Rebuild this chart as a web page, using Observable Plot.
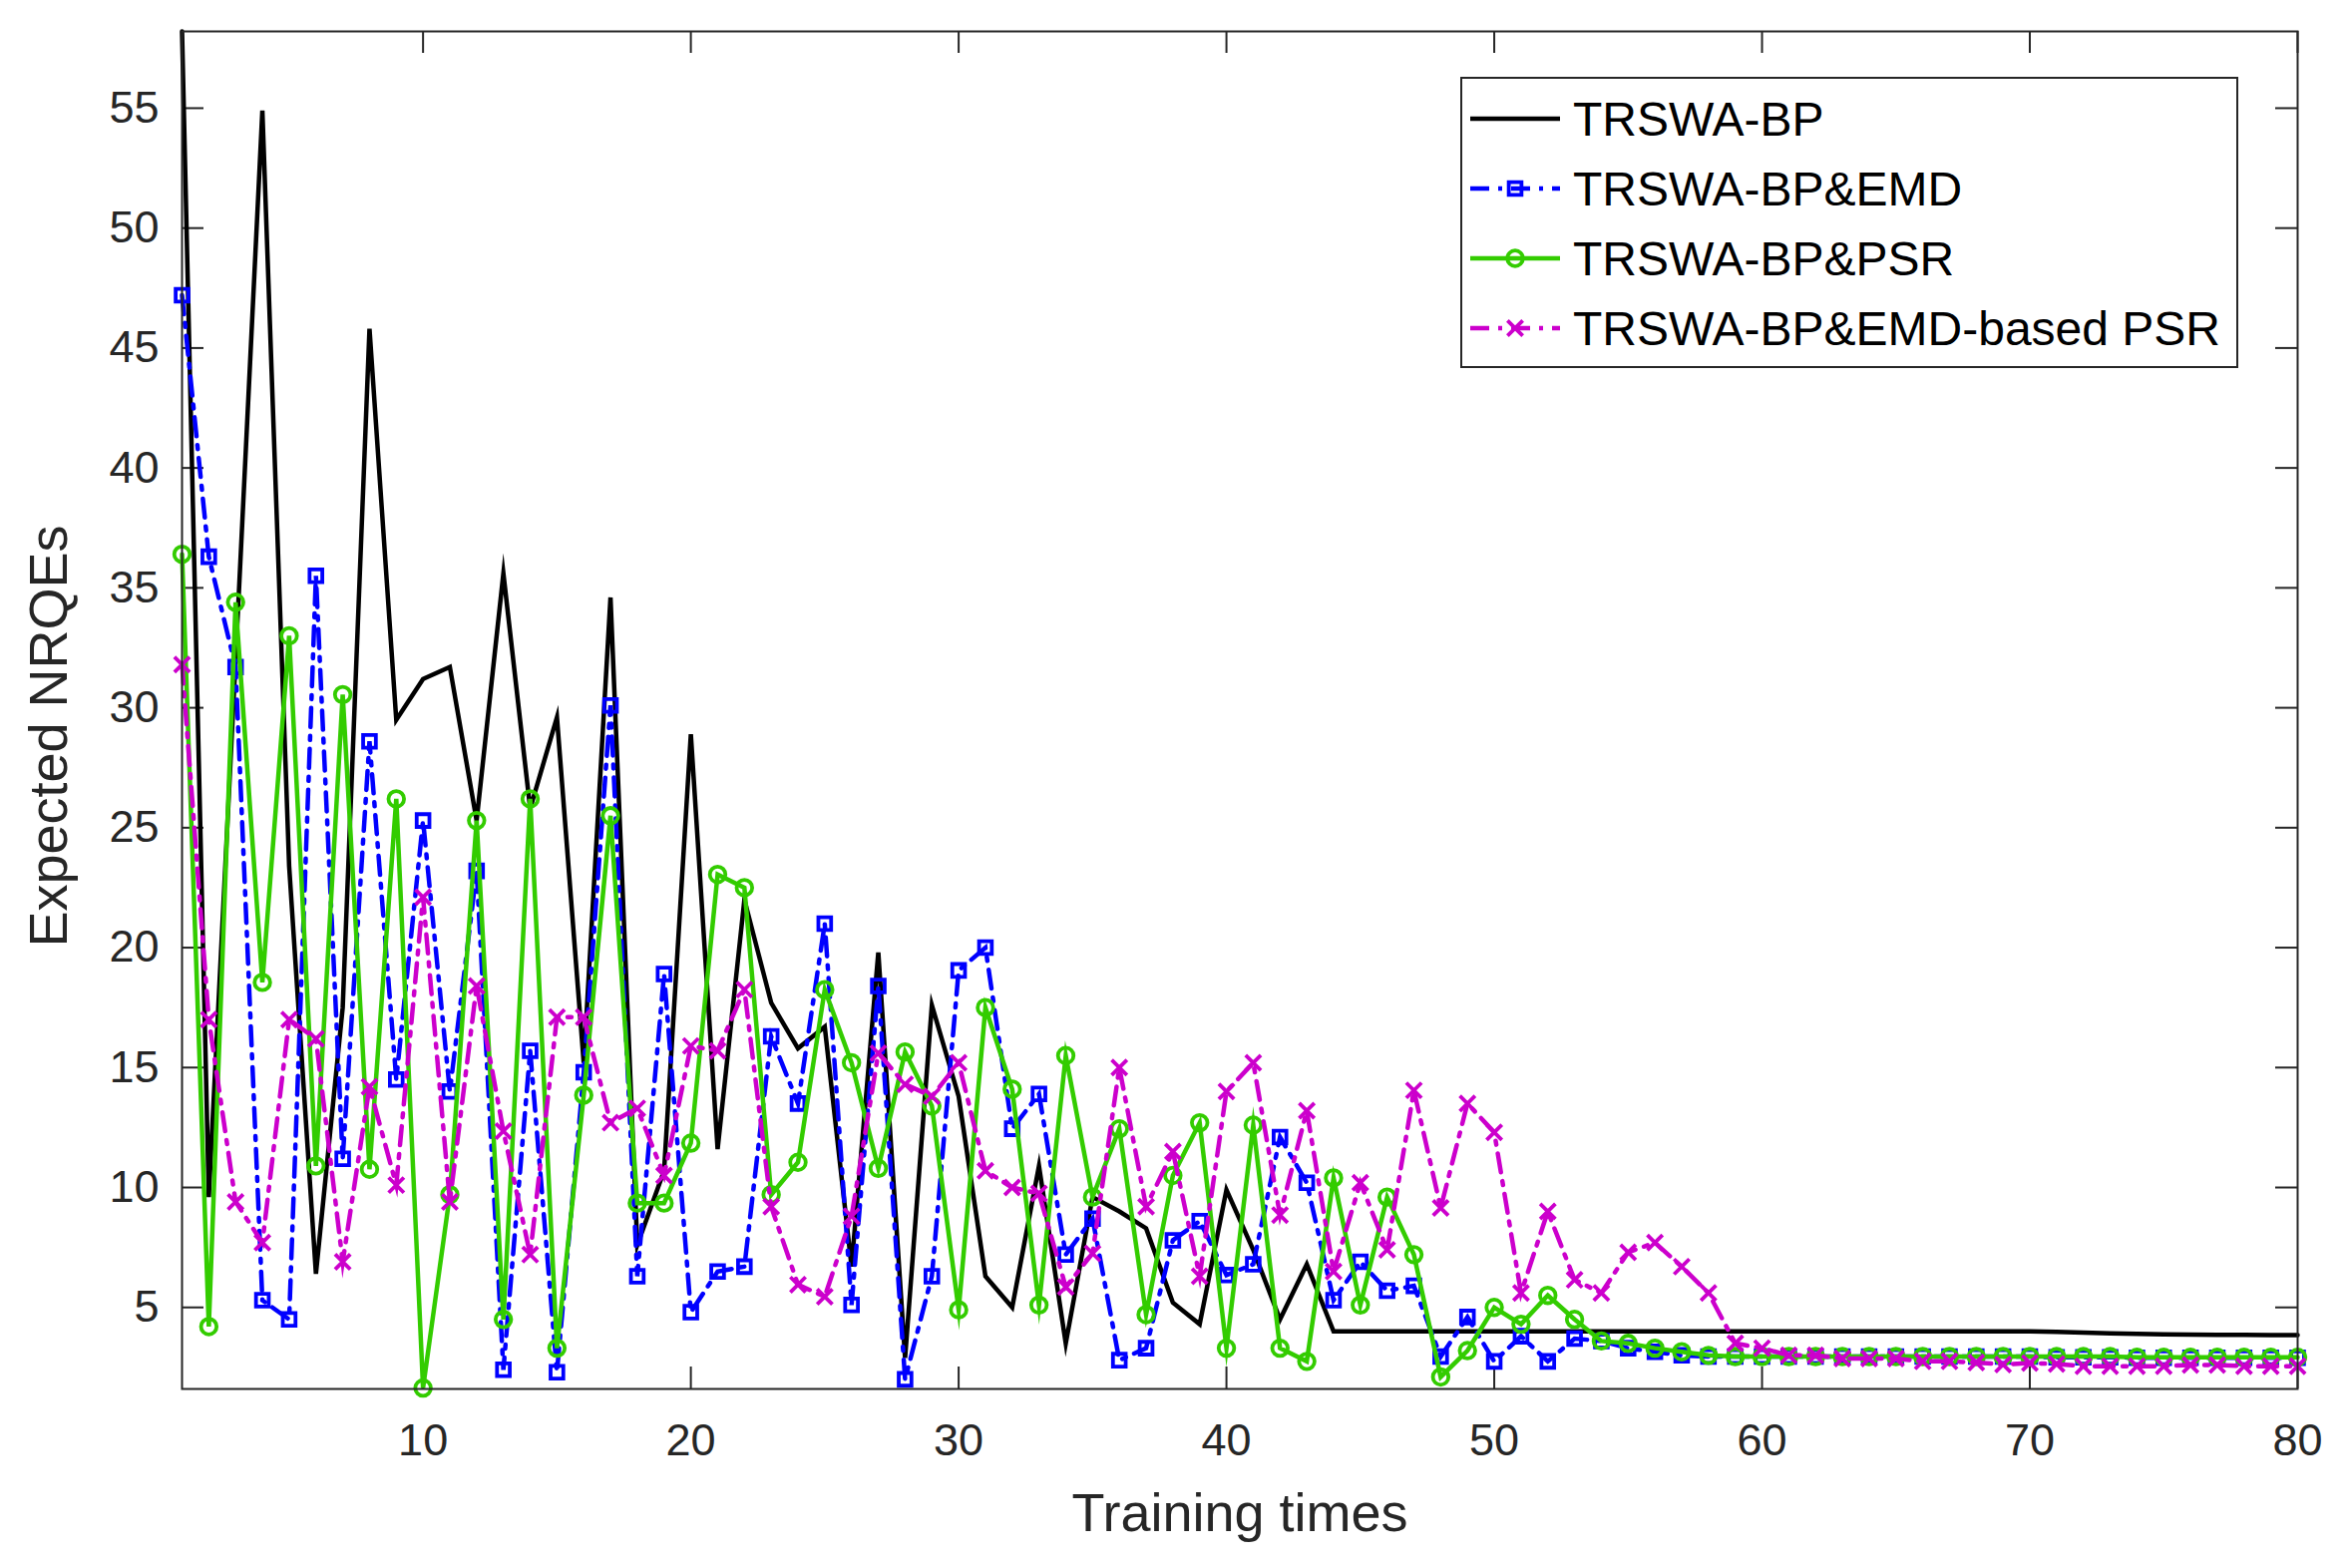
<!DOCTYPE html>
<html>
<head>
<meta charset="utf-8">
<script src="https://cdn.jsdelivr.net/npm/d3@7"></script>
<script src="https://cdn.jsdelivr.net/npm/@observablehq/plot@0.6"></script>
<style>
  html, body { margin: 0; padding: 0; background: #fff; }
  #chart { width: 2355px; height: 1572px; }
</style>
</head>
<body>
<div id="chart"></div>
<script>
// ---------- data ----------
const trainingTimes = d3.range(1, 81);

const trswaBP = [
  58.2, 9.6, 32.0, 54.9, 23.4, 6.4, 17.5, 45.8, 29.5, 31.2,
  31.7, 25.3, 35.6, 25.8, 29.6, 15.2, 34.6, 7.6, 10.7, 28.9,
  11.6, 22.0, 17.7, 15.8, 16.7, 6.7, 19.8, 2.9, 17.6, 13.8,
  6.3, 5.0, 10.9, 3.5, 9.6, 9.0, 8.3, 5.2, 4.3, 9.9,
  7.4, 4.5, 6.8, 4.0, 4.0, 4.0, 4.0, 4.0, 4.0, 4.0,
  4.0, 4.0, 4.0, 4.0, 4.0, 4.0, 4.0, 4.0, 4.0, 4.0,
  4.0, 4.0, 4.0, 4.0, 4.0, 4.0, 4.0, 4.0, 4.0, 4.0,
  3.98, 3.95, 3.92, 3.9, 3.88, 3.87, 3.86, 3.86, 3.85, 3.85
];

const trswaBPEMD = [
  47.2, 36.3, 31.7, 5.3, 4.5, 35.5, 11.2, 28.6, 14.5, 25.3,
  14.0, 23.2, 2.4, 15.7, 2.3, 14.8, 30.1, 6.3, 18.9, 4.8,
  6.5, 6.7, 16.3, 13.5, 21.0, 5.1, 18.4, 2.0, 6.3, 19.05,
  20.0, 12.45, 13.9, 7.2, 8.7, 2.8, 3.3, 7.8, 8.6, 6.35,
  6.8, 12.1, 10.2, 5.3, 6.9, 5.7, 5.9, 2.95, 4.6, 2.75,
  3.8, 2.75, 3.7, 3.6, 3.3, 3.15, 3.0, 2.95, 2.95, 2.95,
  2.95, 2.95, 2.95, 2.95, 2.95, 2.95, 2.95, 2.95, 2.95, 2.95,
  2.92, 2.92, 2.92, 2.9, 2.9, 2.9, 2.9, 2.9, 2.9, 2.9
];

const trswaBPPSR = [
  36.4, 4.2, 34.4, 18.55, 33.0, 10.9, 30.55, 10.76, 26.2, 1.64,
  9.7, 25.3, 4.5, 26.2, 3.3, 13.85, 25.5, 9.35, 9.35, 11.85,
  23.05, 22.5, 9.7, 11.05, 18.25, 15.2, 10.8, 15.65, 13.4, 4.9,
  17.5, 14.1, 5.1, 15.5, 9.6, 12.45, 4.7, 10.5, 12.7, 3.3,
  12.6, 3.3, 2.75, 10.4, 5.1, 9.6, 7.2, 2.1, 3.2, 5.0,
  4.3, 5.5, 4.5, 3.6, 3.5, 3.3, 3.15, 3.0, 2.95, 2.95,
  2.95, 2.95, 2.95, 2.95, 2.95, 2.95, 2.95, 2.95, 2.95, 2.95,
  2.95, 2.95, 2.95, 2.92, 2.92, 2.92, 2.92, 2.92, 2.92, 2.92
];

const trswaBPEMDPSR = [
  31.8, 17.0, 9.4, 7.7, 17.0, 16.2, 6.9, 14.2, 10.1, 22.1,
  9.4, 18.4, 12.35, 7.2, 17.1, 17.1, 12.7, 13.3, 10.5, 15.9,
  15.7, 18.25, 9.2, 5.95, 5.45, 8.8, 15.6, 14.3, 13.8, 15.2,
  10.7, 10.0, 9.75, 5.85, 7.25, 15.0, 9.2, 11.5, 6.3, 14.0,
  15.2, 8.85, 13.2, 6.5, 10.2, 7.4, 14.05, 9.15, 13.5, 12.3,
  5.6, 9.0, 6.15, 5.6, 7.3, 7.7, 6.7, 5.6, 3.5, 3.3,
  3.0, 3.0, 2.87, 2.87, 2.87, 2.75, 2.75, 2.7, 2.62, 2.68,
  2.64, 2.55, 2.55, 2.55, 2.55, 2.6, 2.6, 2.55, 2.55, 2.55
];

const seriesNames = ["TRSWA-BP", "TRSWA-BP&EMD", "TRSWA-BP&PSR", "TRSWA-BP&EMD-based PSR"];
const xTicks = [10, 20, 30, 40, 50, 60, 70, 80];
const yTicks = [5, 10, 15, 20, 25, 30, 35, 40, 45, 50, 55];
const xLabel = "Training times";
const yLabel = "Expected NRQEs";

// ---------- styles ----------
const W = 2355, H = 1572;
const mL = 182, mR = 52, mT = 31, mB = 180;
const plotW = W - mL - mR, plotH = H - mT - mB;
const axisColor = "#262626";
const font = "'Liberation Sans', Arial, Helvetica, sans-serif";
const styles = [
  {name: seriesNames[0], color: "#000000", dash: null, symbol: null},
  {name: seriesNames[1], color: "#0000ff", dash: "19,9,4,9", symbol: "square", r: 7.2},
  {name: seriesNames[2], color: "#33cc00", dash: null, symbol: "circle", r: 7.8},
  {name: seriesNames[3], color: "#cc00cc", dash: "19,9,4,9", symbol: "times", r: 7}
];
const seriesValues = [trswaBP, trswaBPEMD, trswaBPPSR, trswaBPEMDPSR];
const tables = seriesValues.map(vals => trainingTimes.map((t, i) => ({t, v: vals[i]})));

const marks = [];
// inward tick marks on all four sides
const tickStyle = {stroke: axisColor, strokeWidth: 2};
marks.push(Plot.tickY(yTicks, {y: d => d, insetRight: plotW - 22, ...tickStyle}));
marks.push(Plot.tickY(yTicks, {y: d => d, insetLeft: plotW - 22, ...tickStyle}));
marks.push(Plot.tickX(xTicks, {x: d => d, insetTop: plotH - 22, ...tickStyle}));
marks.push(Plot.tickX(xTicks, {x: d => d, insetBottom: plotH - 22, ...tickStyle}));

tables.forEach((tab, k) => {
  const s = styles[k];
  marks.push(Plot.line(tab, {
    x: "t", y: "v", stroke: s.color, strokeWidth: 4.5,
    strokeDasharray: s.dash || undefined, strokeLinejoin: "miter", strokeMiterlimit: 10
  }));
  if (s.symbol) {
    marks.push(Plot.dot(tab, {
      x: "t", y: "v", symbol: s.symbol, r: s.r, stroke: s.color, strokeWidth: 3.8, fill: "none"
    }));
  }
});

marks.push(Plot.frame({stroke: axisColor, strokeWidth: 2}));
marks.push(Plot.axisX({ticks: xTicks, tickSize: 0, tickPadding: 35, fontSize: 45, color: axisColor, label: null, tickFormat: d => String(d)}));
marks.push(Plot.axisY({ticks: yTicks, tickSize: 0, tickPadding: 23, fontSize: 45, color: axisColor, label: null, tickFormat: d => String(d)}));
marks.push(Plot.text([xLabel], {text: d => d, frameAnchor: "bottom", dy: 142, textAnchor: "middle", lineAnchor: "bottom", fontSize: 54, fill: axisColor}));
marks.push(Plot.text([yLabel], {text: d => d, frameAnchor: "left", dx: -133, dy: 26, rotate: -90, textAnchor: "middle", lineAnchor: "middle", fontSize: 54, fill: axisColor}));

const chart = Plot.plot({
  width: W, height: H,
  marginLeft: mL, marginRight: mR, marginTop: mT, marginBottom: mB,
  style: {fontFamily: font, background: "#fff", overflow: "visible"},
  x: {domain: [1, 80]},
  y: {domain: [1.6, 58.2]},
  marks
});

// ---------- legend (inside plot, top-right) ----------
const svg = d3.select(chart);
const lg = svg.append("g").attr("class", "legend").attr("text-anchor", "start");
const box = {x: 1465, y: 78, w: 778, h: 290};
lg.append("rect").attr("x", box.x).attr("y", box.y).attr("width", box.w).attr("height", box.h)
  .attr("fill", "#fff").attr("stroke", axisColor).attr("stroke-width", 2);
const symMap = {square: d3.symbolSquare, circle: d3.symbolCircle, times: d3.symbolTimes};
styles.forEach((s, i) => {
  const cy = 119 + i * 70;
  lg.append("line").attr("x1", 1474).attr("x2", 1564).attr("y1", cy).attr("y2", cy)
    .attr("stroke", s.color).attr("stroke-width", 4.5)
    .attr("stroke-dasharray", s.dash || null);
  if (s.symbol) {
    lg.append("path").attr("transform", `translate(1519,${cy})`)
      .attr("d", d3.symbol(symMap[s.symbol], Math.PI * s.r * s.r)())
      .attr("fill", "none").attr("stroke", s.color).attr("stroke-width", 3.8);
  }
  lg.append("text").attr("x", 1577).attr("y", cy).attr("dy", "0.35em")
    .attr("text-anchor", "start")
    .attr("font-size", 48).attr("font-family", font).attr("fill", "#000").text(s.name);
});

document.getElementById("chart").appendChild(chart);
</script>
</body>
</html>
